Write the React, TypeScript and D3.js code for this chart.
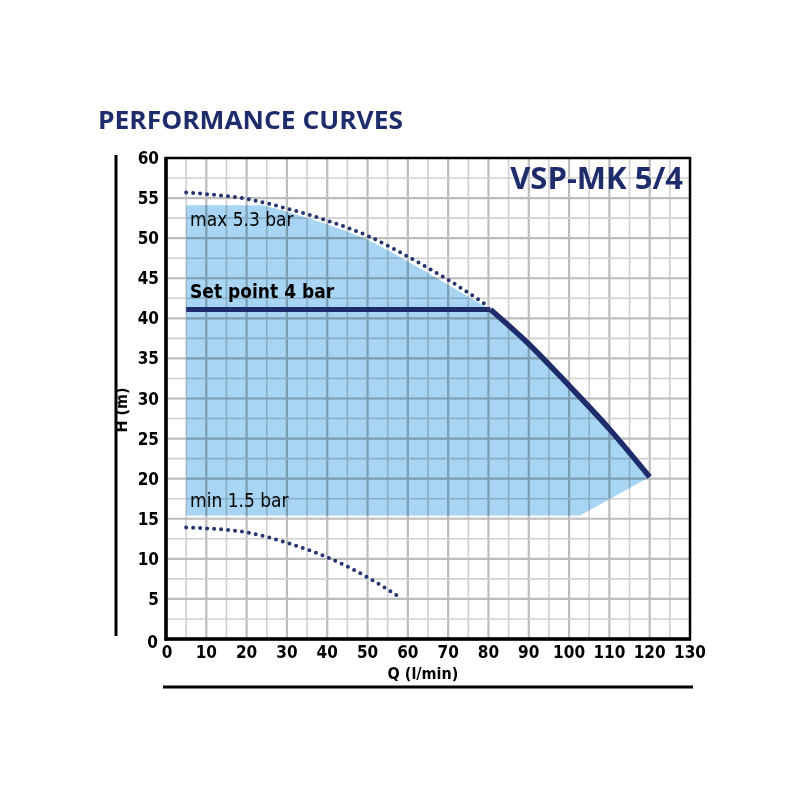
import * as d3 from "d3"
import { useEffect, useRef } from "react"

// Q (l/min) vs H (m)
const maxCurve: [number, number][] = [
  [5, 55.7], [10, 55.5], [20, 54.9], [30, 53.7], [40, 52.2], [50, 50.3], [60, 47.7], [70, 44.8], [80, 41.5],
]
const minCurve: [number, number][] = [
  [5, 13.9], [10, 13.8], [20, 13.3], [30, 12], [40, 10.2], [50, 7.7], [58, 5.2],
]
const setPointCurve: [number, number][] = [
  [5, 41.1], [80.5, 41.1], [90, 36.8], [100, 31.6], [110, 26.2], [120, 20.2],
]
// upper edge of the shaded operating area (under the max curve)
const areaTop: [number, number][] = [
  [24, 54.1], [30, 53.3], [40, 51.7], [50, 49.8], [60, 47.1], [70, 44.2], [80.5, 41.1],
]
const areaTopLeft: [number, number][] = [[5, 15.4], [5, 54.1]]
const areaBottom: [number, number][] = [[120, 20.2], [102.7, 15.4], [5, 15.4]]

const xTicks = d3.range(0, 131, 10)
const yTicks = d3.range(0, 61, 5)

const NAVY = "#1f2c6c"
const COND = "'Liberation Sans Narrow', 'DejaVu Sans Condensed', sans-serif"

export default function App() {
  const svgRef = useRef<SVGSVGElement>(null)

  useEffect(() => {
    if (!svgRef.current) return
    document.body.style.margin = "0"

    const svg = d3.select(svgRef.current)
    svg.selectAll("*").remove()

    const x = d3.scaleLinear().domain([0, 130]).range([166, 690])
    const y = d3.scaleLinear().domain([0, 60]).range([639, 158])

    const straight = d3.line<[number, number]>()
      .x((d) => x(d[0]))
      .y((d) => y(d[1]))
      .curve(d3.curveLinear)
    const curve = d3.line<[number, number]>()
      .x((d) => x(d[0]))
      .y((d) => y(d[1]))
      .curve(d3.curveMonotoneX)

    // Shaded area: left edge, smooth top, set point curve, then bottom
    const toL = (s: string | null) => (s || "").replace(/^M/, "L")
    const areaPath =
      straight(areaTopLeft) +
      toL(curve(areaTop)) +
      toL(curve(setPointCurve.slice(1))) +
      toL(straight(areaBottom)) +
      "Z"
    svg.append("path").attr("d", areaPath).attr("fill", "#a7d5f3")

    // Grid
    const grid = svg.append("g").style("mix-blend-mode", "multiply")
    d3.range(5, 130, 5).forEach((v) => {
      grid
        .append("line")
        .attr("x1", x(v))
        .attr("x2", x(v))
        .attr("y1", y(0))
        .attr("y2", y(60))
        .attr("stroke", v % 10 === 0 ? "#bcbcbc" : "#d0d0d0")
        .attr("stroke-width", v % 10 === 0 ? 2.2 : 1.6)
    })
    d3.range(2.5, 60, 2.5).forEach((v) => {
      grid
        .append("line")
        .attr("x1", x(0))
        .attr("x2", x(130))
        .attr("y1", y(v))
        .attr("y2", y(v))
        .attr("stroke", v % 5 === 0 ? "#bcbcbc" : "#d0d0d0")
        .attr("stroke-width", v % 5 === 0 ? 2.2 : 1.6)
    })

    // Frame
    svg
      .append("rect")
      .attr("x", x(0))
      .attr("y", y(60))
      .attr("width", x(130) - x(0))
      .attr("height", y(0) - y(60))
      .attr("fill", "none")
      .attr("stroke", "#000")
      .attr("stroke-width", 2.5)
    svg
      .append("line")
      .attr("x1", x(0))
      .attr("x2", x(0))
      .attr("y1", y(60) - 1)
      .attr("y2", y(0) + 1.5)
      .attr("stroke", "#000")
      .attr("stroke-width", 3.5)
    svg
      .append("line")
      .attr("x1", x(0) - 1.5)
      .attr("x2", x(130) + 1)
      .attr("y1", y(0))
      .attr("y2", y(0))
      .attr("stroke", "#000")
      .attr("stroke-width", 3.5)

    // Outer rules
    svg.append("line").attr("x1", 116).attr("x2", 116).attr("y1", 155).attr("y2", 636)
      .attr("stroke", "#000").attr("stroke-width", 3)
    svg.append("line").attr("x1", 163).attr("x2", 693).attr("y1", 687).attr("y2", 687)
      .attr("stroke", "#000").attr("stroke-width", 3)

    // Dotted limit curves
    ;[maxCurve, minCurve].forEach((pts) => {
      svg
        .append("path")
        .attr("d", curve(pts))
        .attr("fill", "none")
        .attr("stroke", "#26346f")
        .attr("stroke-width", 4)
        .attr("stroke-linecap", "round")
        .attr("stroke-dasharray", "0 7")
    })

    // Set point curve
    svg
      .append("path")
      .attr("d", straight([setPointCurve[0], setPointCurve[1]]))
      .attr("fill", "none")
      .attr("stroke", NAVY)
      .attr("stroke-width", 5)
    svg
      .append("path")
      .attr("d", curve(setPointCurve.slice(1)))
      .attr("fill", "none")
      .attr("stroke", NAVY)
      .attr("stroke-width", 5.5)

    // Tick labels
    svg
      .append("g")
      .selectAll("text")
      .data(yTicks)
      .join("text")
      .attr("x", (d) => (d === 0 ? 158 : 159))
      .attr("y", (d) => y(d) + (d === 0 ? 9 : 6))
      .attr("text-anchor", "end")
      .style("font-family", COND)
      .style("font-weight", "bold")
      .style("font-size", "17px")
      .text((d) => d)
    svg
      .append("g")
      .selectAll("text")
      .data(xTicks)
      .join("text")
      .attr("x", (d) => (d === 0 ? x(d) + 1 : x(d)))
      .attr("y", 658)
      .attr("text-anchor", "middle")
      .style("font-family", COND)
      .style("font-weight", "bold")
      .style("font-size", "17px")
      .text((d) => d)

    // Axis titles
    svg
      .append("text")
      .attr("x", 423)
      .attr("y", 679)
      .attr("text-anchor", "middle")
      .style("font-family", COND)
      .style("font-weight", "bold")
      .style("font-size", "16px")
      .text("Q (l/min)")
    svg
      .append("text")
      .attr("transform", "translate(127,410) rotate(-90)")
      .attr("text-anchor", "middle")
      .style("font-family", COND)
      .style("font-weight", "bold")
      .style("font-size", "16px")
      .text("H (m)")

    // Curve labels
    svg
      .append("text")
      .attr("x", 190)
      .attr("y", 226)
      .style("font-family", COND)
      .style("font-size", "19px")
      .text("max 5.3 bar")
    svg
      .append("text")
      .attr("x", 190)
      .attr("y", 298)
      .style("font-family", COND)
      .style("font-weight", "bold")
      .style("font-size", "19px")
      .text("Set point 4 bar")
    svg
      .append("text")
      .attr("x", 190)
      .attr("y", 507)
      .style("font-family", COND)
      .style("font-size", "19px")
      .text("min 1.5 bar")

    // Titles
    svg
      .append("text")
      .attr("x", 98)
      .attr("y", 129)
      .attr("textLength", 305)
      .attr("lengthAdjust", "spacingAndGlyphs")
      .attr("fill", NAVY)
      .style("font-family", "'Open Sans', sans-serif")
      .style("font-weight", "bold")
      .style("font-size", "25px")
      .text("PERFORMANCE CURVES")
    svg
      .append("text")
      .attr("x", 683)
      .attr("y", 189)
      .attr("text-anchor", "end")
      .attr("fill", NAVY)
      .style("font-family", "'Open Sans', sans-serif")
      .style("font-weight", "bold")
      .style("font-size", "31px")
      .text("VSP-MK 5/4")
  }, [])

  return <svg ref={svgRef} width={800} height={800} style={{ display: "block", background: "#fff" }} />
}
